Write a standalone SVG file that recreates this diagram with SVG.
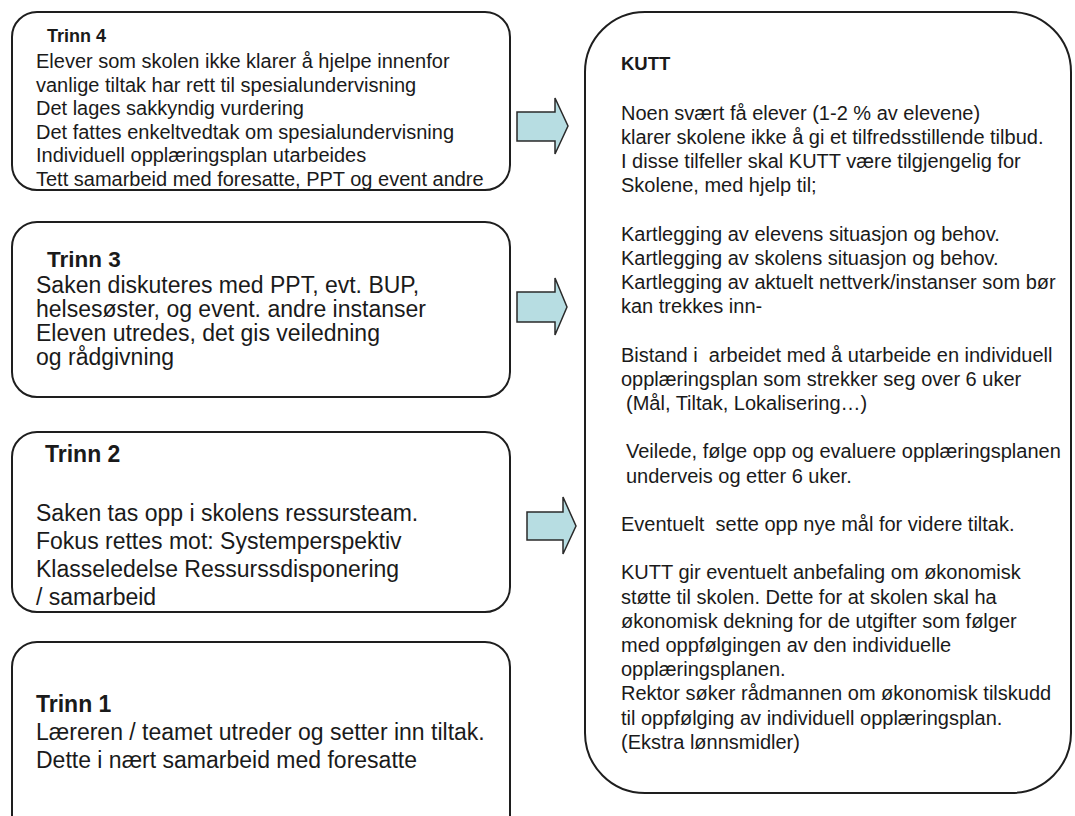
<svg xmlns="http://www.w3.org/2000/svg" width="1075" height="816" viewBox="0 0 1075 816">
<style>
.box{fill:#fff;stroke:#1e1e1e;stroke-width:2}
.t{font-family:"Liberation Sans",Arial,sans-serif;fill:#1a1a1a;white-space:pre}
.b{font-weight:bold}
.arr{fill:#b7dde2;stroke:#2a2a2a;stroke-width:1.5;stroke-linejoin:miter}
</style>
<rect width="1075" height="816" fill="#fff"/>
<g id="trinn4">
<rect class="box" x="12" y="12" width="498" height="178" rx="25" ry="25"/>
<text class="t b" x="47" y="41.5" font-size="18">Trinn 4</text>
<text class="t" font-size="20">
<tspan x="36" y="68">Elever som skolen ikke klarer å hjelpe innenfor</tspan>
<tspan x="36" y="91.6">vanlige tiltak har rett til spesialundervisning</tspan>
<tspan x="36" y="115.2">Det lages sakkyndig vurdering</tspan>
<tspan x="36" y="138.8">Det fattes enkeltvedtak om spesialundervisning</tspan>
<tspan x="36" y="162.4">Individuell opplæringsplan utarbeides</tspan>
<tspan x="36" y="186">Tett samarbeid med foresatte, PPT og event andre</tspan>
</text>
</g>
<g id="trinn3">
<rect class="box" x="12" y="222" width="498" height="175" rx="25" ry="25"/>
<text class="t b" x="47" y="267" font-size="22.5">Trinn 3</text>
<text class="t" font-size="23">
<tspan x="36" y="293">Saken diskuteres med PPT, evt. BUP,</tspan>
<tspan x="36" y="317">helsesøster, og event. andre instanser</tspan>
<tspan x="36" y="341">Eleven utredes, det gis veiledning</tspan>
<tspan x="36" y="365">og rådgivning</tspan>
</text>
</g>
<g id="trinn2">
<rect class="box" x="12" y="432" width="498" height="180" rx="25" ry="25"/>
<text class="t b" x="45" y="462" font-size="23">Trinn 2</text>
<text class="t" font-size="23">
<tspan x="36" y="521">Saken tas opp i skolens ressursteam.</tspan>
<tspan x="36" y="549">Fokus rettes mot: Systemperspektiv</tspan>
<tspan x="36" y="577">Klasseledelse Ressurssdisponering</tspan>
<tspan x="36" y="605">/ samarbeid</tspan>
</text>
</g>
<g id="trinn1">
<rect class="box" x="12" y="642" width="498" height="200" rx="25" ry="25"/>
<text class="t b" x="36" y="712" font-size="23">Trinn 1</text>
<text class="t" font-size="23">
<tspan x="36" y="740">Læreren / teamet utreder og setter inn tiltak.</tspan>
<tspan x="36" y="768">Dette i nært samarbeid med foresatte</tspan>
</text>
</g>
<g id="kutt">
<rect class="box" x="585" y="12" width="486" height="781" rx="60" ry="60"/>
<text class="t b" x="621" y="70" font-size="18.5">KUTT</text>
<text class="t" font-size="20">
<tspan x="621" y="119.5">Noen svært få elever (1-2 % av elevene)</tspan>
<tspan x="621" y="143.7">klarer skolene ikke å gi et tilfredsstillende tilbud.</tspan>
<tspan x="621" y="167.9">I disse tilfeller skal KUTT være tilgjengelig for</tspan>
<tspan x="621" y="192.1">Skolene, med hjelp til;</tspan>
<tspan x="621" y="240.5">Kartlegging av elevens situasjon og behov.</tspan>
<tspan x="621" y="264.7">Kartlegging av skolens situasjon og behov.</tspan>
<tspan x="621" y="288.9">Kartlegging av aktuelt nettverk/instanser som bør</tspan>
<tspan x="621" y="313.1">kan trekkes inn-</tspan>
<tspan x="621" y="361.5">Bistand i  arbeidet med å utarbeide en individuell</tspan>
<tspan x="621" y="385.7">opplæringsplan som strekker seg over 6 uker</tspan>
<tspan x="626" y="409.9">(Mål, Tiltak, Lokalisering…)</tspan>
<tspan x="626" y="458.3">Veilede, følge opp og evaluere opplæringsplanen</tspan>
<tspan x="626" y="482.5">underveis og etter 6 uker.</tspan>
<tspan x="621" y="530.9">Eventuelt  sette opp nye mål for videre tiltak.</tspan>
<tspan x="621" y="579.3">KUTT gir eventuelt anbefaling om økonomisk</tspan>
<tspan x="621" y="603.5">støtte til skolen. Dette for at skolen skal ha</tspan>
<tspan x="621" y="627.7">økonomisk dekning for de utgifter som følger</tspan>
<tspan x="621" y="651.9">med oppfølgingen av den individuelle</tspan>
<tspan x="621" y="676.1">opplæringsplanen.</tspan>
<tspan x="621" y="700.3">Rektor søker rådmannen om økonomisk tilskudd</tspan>
<tspan x="621" y="724.5">til oppfølging av individuell opplæringsplan.</tspan>
<tspan x="621" y="748.7">(Ekstra lønnsmidler)</tspan>
</text>
</g>
<g id="connectors">
<polygon class="arr" points="517,112 555,112 555,98 568,126 555,154 555,141 517,141"/>
<polygon class="arr" points="517,292 555,292 555,278 567,307 555,335 555,322 517,322"/>
<polygon class="arr" points="527,512 563,512 563,497 576,526 563,554 563,540 527,540"/>
</g>
</svg>
